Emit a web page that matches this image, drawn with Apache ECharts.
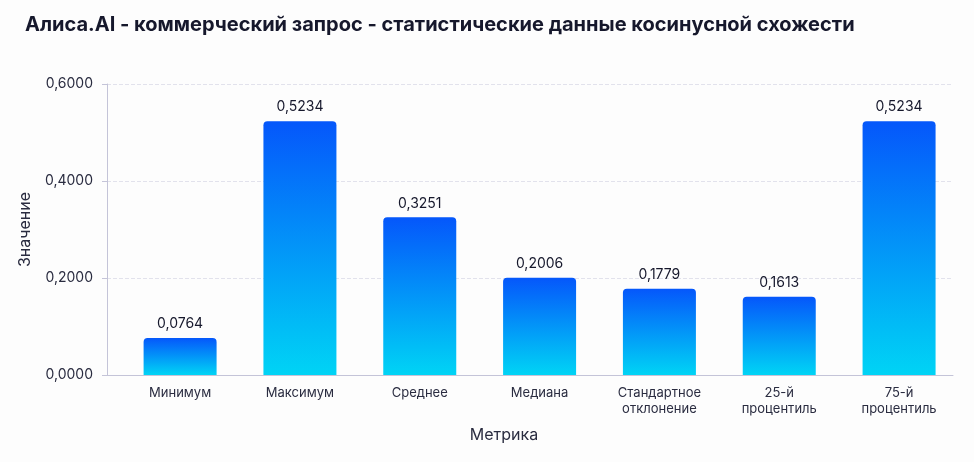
<!DOCTYPE html>
<html>
<head>
<meta charset="utf-8">
<script src="https://cdn.jsdelivr.net/npm/echarts@6/dist/echarts.min.js"></script>
<style>
  html, body { margin: 0; padding: 0; background: #fdfdfd; }
  #chart { width: 974px; height: 462px; }
</style>
</head>
<body>
<div id="chart"></div>
<script>
// метрики и значения
var categories = ["Минимум", "Максимум", "Среднее", "Медиана", "Стандартное\nотклонение", "25-й\nпроцентиль", "75-й\nпроцентиль"];
var values = [0.0764, 0.5234, 0.3251, 0.2006, 0.1779, 0.1613, 0.5234];
var yTicks = [0, 0.2, 0.4, 0.6];

function fmt(v) {
  return v.toFixed(4).replace(".", ",");
}

var idx = categories.map(function(c, i) { return i; });
var barData = values.map(function(v, i) { return [i, v]; });

var myChart = echarts.init(document.getElementById("chart"));
var option = {
  backgroundColor: "#fdfdfd",
  textStyle: { fontFamily: "Inter" },
  title: {
    text: "Алиса.AI - коммерческий запрос - статистические данные косинусной схожести",
    left: 20,
    top: 10,
    textStyle: { fontSize: 20, fontWeight: "bold", color: "#16182c", fontFamily: "Inter" }
  },
  grid: { left: 107, right: 21, top: 84, bottom: 87 },
  xAxis: {
    // числовая ось, чтобы столбцы стояли как в оригинале (с отступом от оси Y)
    type: "value",
    min: -0.61,
    max: 6.45,
    name: "Метрика",
    nameLocation: "middle",
    nameGap: 52,
    nameTextStyle: { fontSize: 16, color: "#2a2c40", padding: [0, 52, 0, 0] },
    axisLine: { show: true, onZero: false, lineStyle: { color: "#c4c4d8" } },
    axisTick: { show: false },
    splitLine: { show: false },
    axisLabel: {
      customValues: idx,
      fontSize: 13,
      color: "#2a2c40",
      margin: 10,
      lineHeight: 16,
      formatter: function(v) { return categories[Math.round(v)]; }
    }
  },
  yAxis: {
    type: "value",
    min: 0,
    max: 0.6,
    interval: 0.2,
    name: "Значение",
    nameLocation: "middle",
    nameGap: 74,
    nameTextStyle: { fontSize: 16, color: "#2a2c40" },
    axisLine: { show: true, onZero: false, lineStyle: { color: "#c4c4d8" } },
    axisLabel: { fontSize: 14, color: "#2a2c40", margin: 14, formatter: fmt, customValues: yTicks },
    splitLine: { lineStyle: { color: "#e2e2ec", type: "dashed" } }
  },
  series: [
    {
      type: "bar",
      data: barData,
      barWidth: 73,
      itemStyle: {
        borderRadius: [4, 4, 0, 0],
        color: new echarts.graphic.LinearGradient(0, 0, 0, 1, [
          { offset: 0, color: "#0557fb" },
          { offset: 1, color: "#00d4f5" }
        ])
      },
      label: {
        show: true,
        position: "top",
        distance: 7,
        fontSize: 14,
        color: "#16182c",
        formatter: function(p) { return fmt(p.value[1]); }
      }
    }
  ]
};
myChart.setOption(option);
</script>
</body>
</html>
